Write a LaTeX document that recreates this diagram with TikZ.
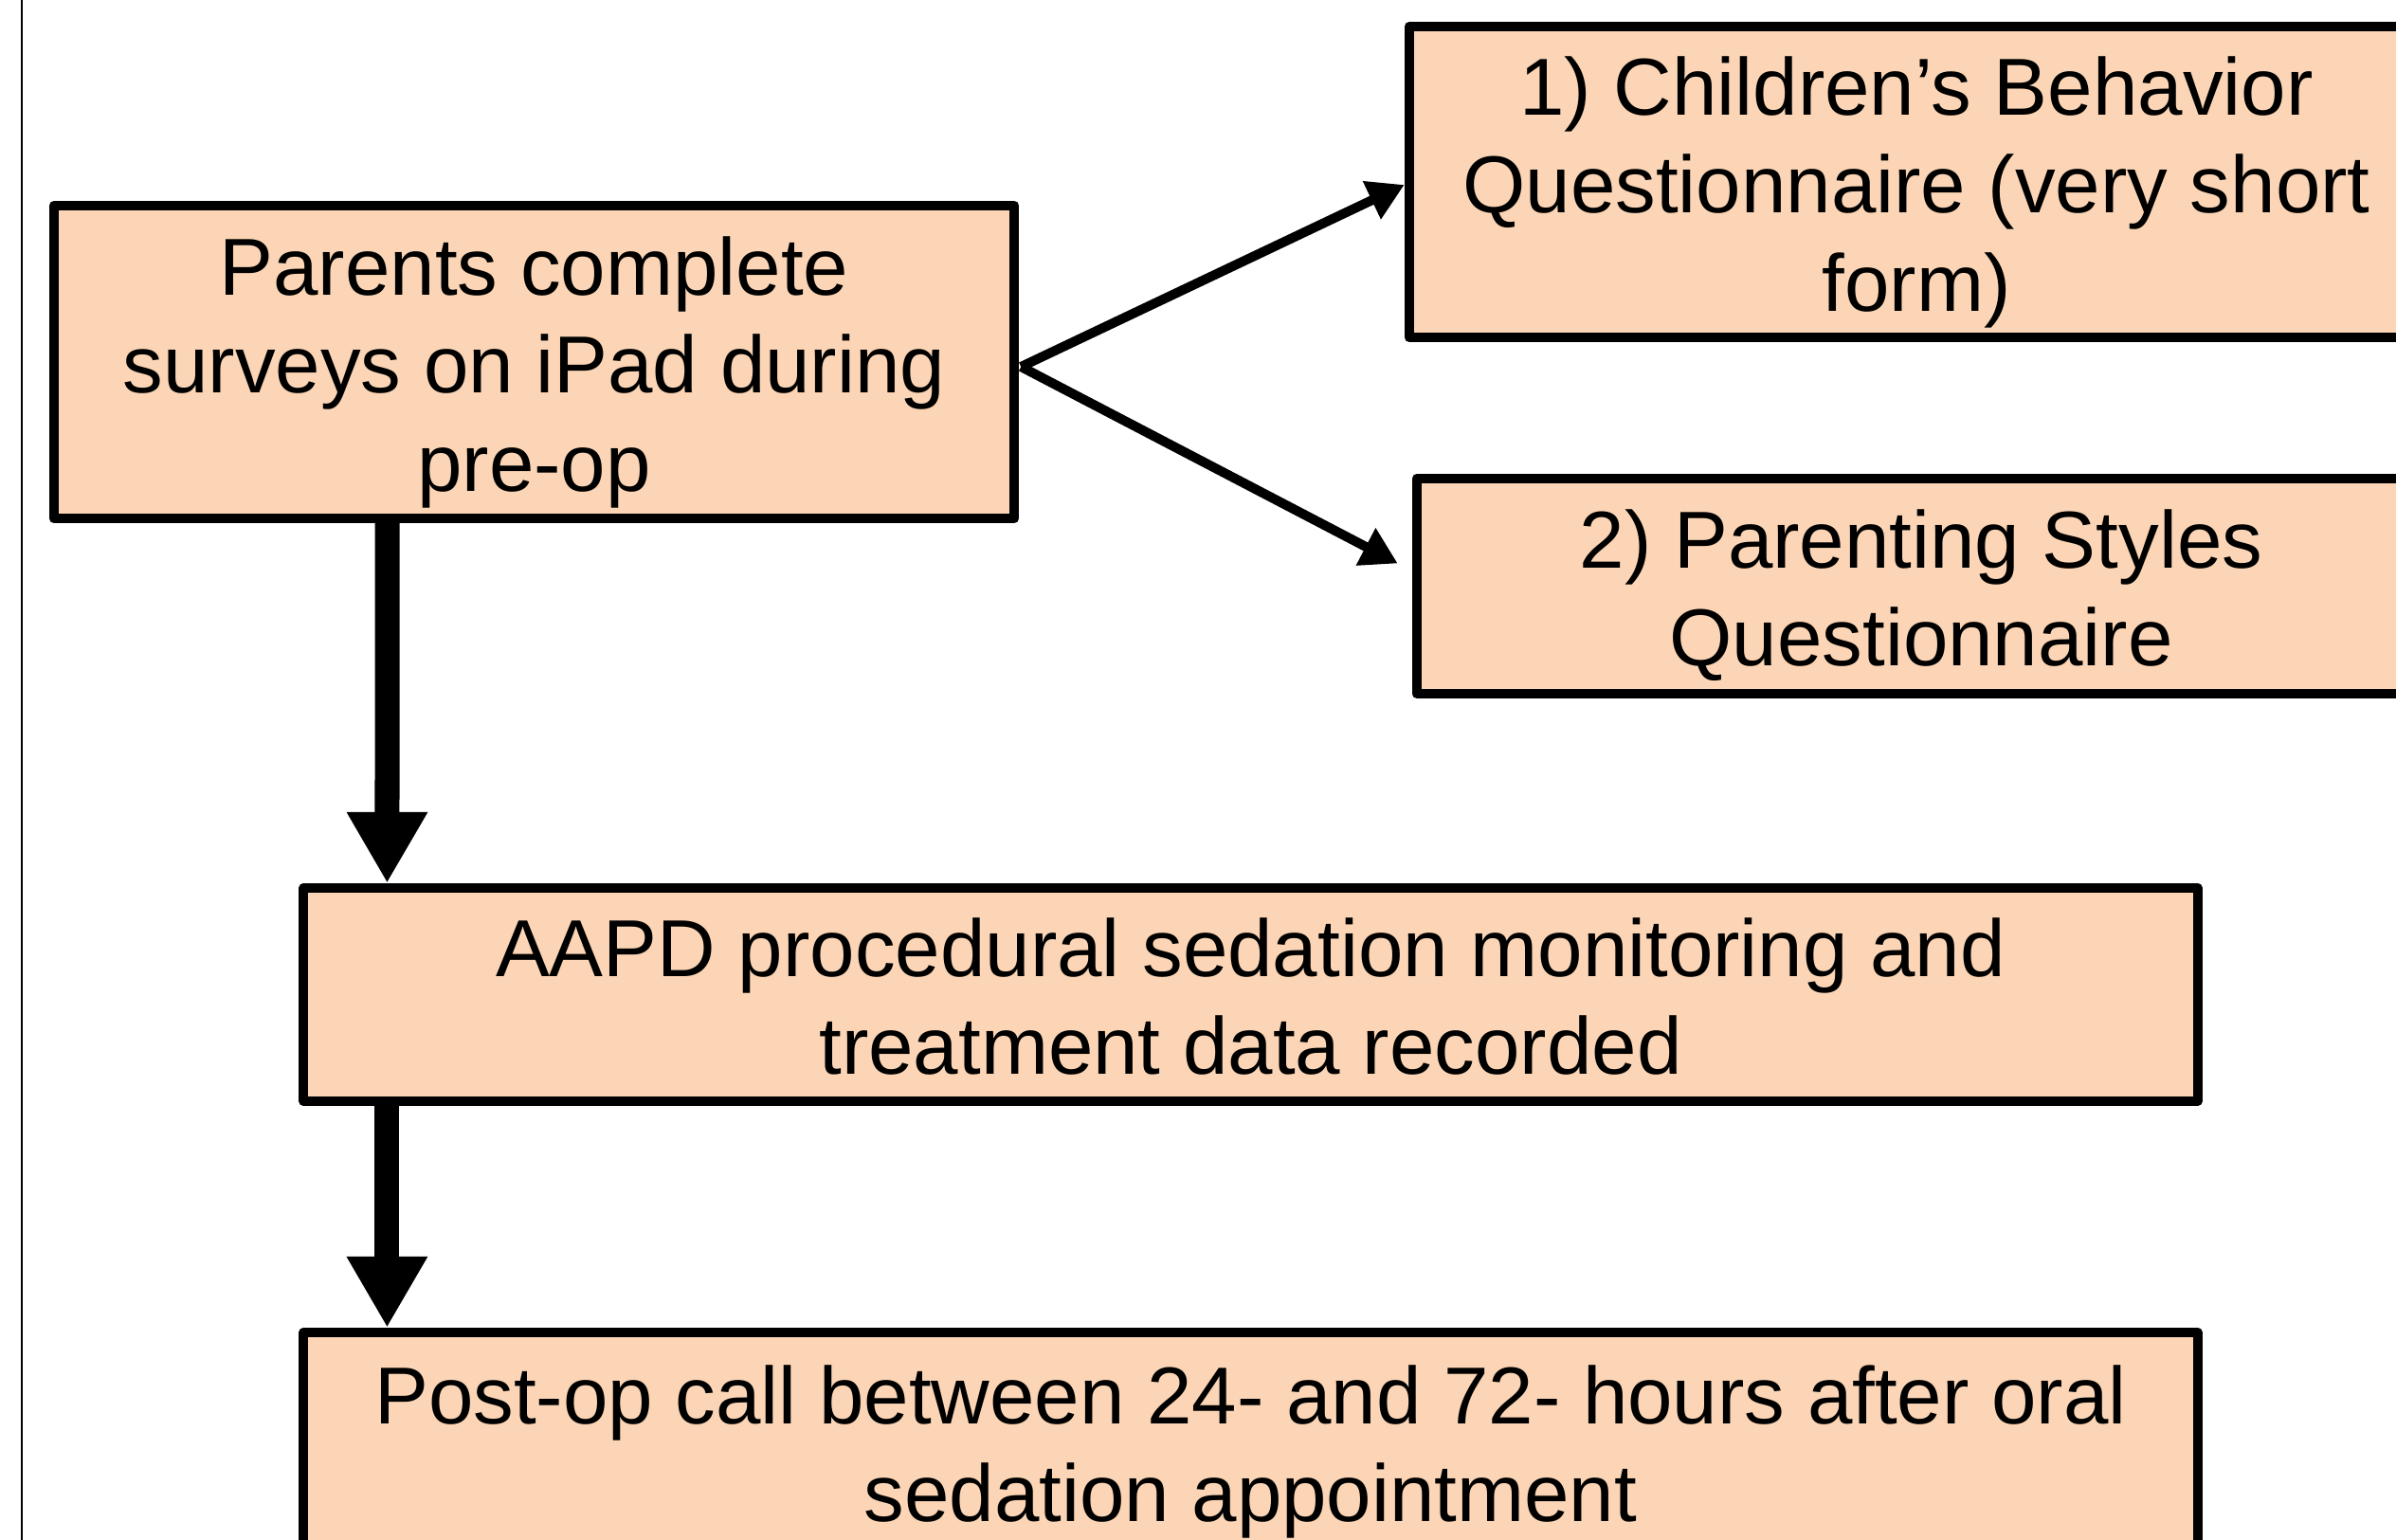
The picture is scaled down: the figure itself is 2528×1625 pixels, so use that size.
\documentclass[tikz,border=0pt]{standalone}
\usepackage{fontspec}
\setmainfont{Liberation Sans}
\usetikzlibrary{arrows.meta}
\definecolor{peach}{RGB}{251,213,181}
\newcommand{\boxtext}[1]{\raisebox{-0.12cm}[\height][\depth]{\begin{tabular}{@{}c@{}}#1\end{tabular}}}
\begin{document}
\begin{tikzpicture}[x=0.01cm,y=-0.01cm,
  flowbox/.style={draw=black, fill=peach, line width=0.1cm, line join=round,
    inner sep=0pt, outer sep=0pt,
    font=\fontsize{24.25}{29.4}\selectfont},
  thinarrow/.style={line width=0.1cm, -{Triangle[length=0.38cm,width=0.42cm]}},
  thickarrow/.style={line width=0.26cm, -{Triangle[length=0.75cm,width=0.80cm]}}]
\useasboundingbox (0,0) rectangle (2528,1625);
\clip (0,0) rectangle (2528,1625);
\fill[white] (0,0) rectangle (2528,1625);
\draw[line width=0.015cm] (23,0) -- (23,1625);

\node[flowbox, minimum width=10.13cm, minimum height=3.30cm] (A) at (563.5,382)
  {\boxtext{Parents complete\\surveys on iPad during\\pre-op}};
\node[flowbox, minimum width=10.70cm, minimum height=3.28cm] (B) at (2022,192)
  {\boxtext{1) Children’s Behavior\\Questionnaire (very short\\form)}};
\node[flowbox, minimum width=10.64cm, minimum height=2.27cm] (C) at (2027,618.5)
  {\boxtext{2) Parenting Styles\\Questionnaire}};
\node[flowbox, minimum width=19.97cm, minimum height=2.25cm] (D) at (1319.5,1049.5)
  {\boxtext{AAPD procedural sedation monitoring and\\treatment data recorded}};
\node[flowbox, minimum width=19.97cm, minimum height=2.30cm] (E) at (1319.5,1521)
  {\boxtext{Post-op call between 24- and 72- hours after oral\\sedation appointment}};

\draw[thinarrow] ([shift={(7,5)}]A.east) -- ([shift={(-5,3)}]B.west);
\draw[thinarrow] ([shift={(7,5)}]A.east) -- ([shift={(-20,-24)}]C.west);
\draw[thickarrow] ([shift={(352,0)}]A.south west) -- ([shift={(88,-5)}]D.north west);
\draw[thickarrow] ([shift={(88,0)}]D.south west) -- ([shift={(88,-5)}]E.north west);
\end{tikzpicture}
\end{document}
